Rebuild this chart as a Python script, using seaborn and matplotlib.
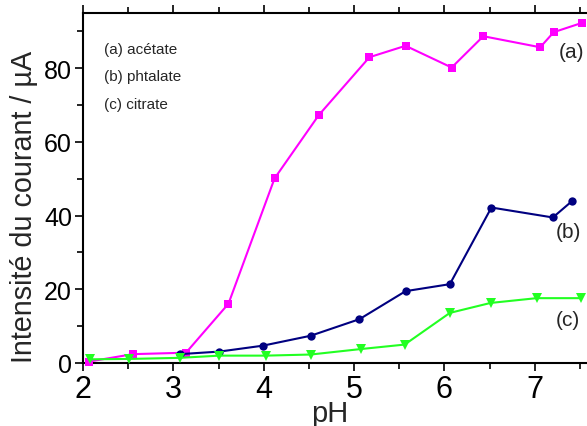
import matplotlib
matplotlib.use("Agg")
import matplotlib.pyplot as plt
import seaborn as sns
import pandas as pd
from matplotlib.ticker import MultipleLocator

# Data
ph_a = [2.07, 2.55, 3.14, 3.61, 4.12, 4.61, 5.17, 5.57, 6.08, 6.43, 7.06, 7.21, 7.52]
i_a = [0.4, 2.4, 2.8, 16.1, 50.1, 67.3, 83.0, 86.1, 80.2, 88.7, 85.7, 89.8, 92.3]

ph_b = [3.07, 3.51, 3.99, 4.52, 5.06, 5.57, 6.06, 6.52, 7.20, 7.41]
i_b = [2.4, 3.1, 4.7, 7.4, 11.9, 19.5, 21.4, 42.2, 39.5, 43.9]

ph_c = [2.08, 2.51, 3.07, 3.51, 4.02, 4.52, 5.08, 5.56, 6.06, 6.51, 7.02, 7.51]
i_c = [1.0, 1.1, 1.4, 2.0, 2.0, 2.3, 3.8, 5.0, 13.6, 16.3, 17.6, 17.6]

legend_lines = ["(a) acétate", "(b) phtalate", "(c) citrate"]
curve_labels = ["(a)", "(b)", "(c)"]

sns.set_theme(style="ticks")
plt.rcParams['font.family'] = ['Liberation Sans', 'DejaVu Sans']

fig = plt.figure(figsize=(5.87, 4.27), dpi=100)
ax = fig.add_axes([83/587, 63/427, 506/587, 350/427])

series = [
    (ph_a, i_a, "#FF00FF", "s"),
    (ph_b, i_b, "#000080", "o"),
    (ph_c, i_c, "#22FF22", "v"),
]
for x, y, col, mk in series:
    df = pd.DataFrame({"pH": x, "I": y})
    sns.lineplot(data=df, x="pH", y="I", ax=ax, color=col, marker=mk,
                 markersize=6 if mk != "v" else 7, markeredgewidth=0,
                 linewidth=1.5, sort=False, clip_on=False, zorder=3)

ax.set_xlim(2, 7.6)
ax.set_ylim(0, 95)
ax.xaxis.set_major_locator(MultipleLocator(1))
ax.xaxis.set_minor_locator(MultipleLocator(0.5))
ax.yaxis.set_major_locator(MultipleLocator(20))
ax.yaxis.set_minor_locator(MultipleLocator(10))

for s in ["left", "bottom", "top"]:
    ax.spines[s].set_visible(True)
    ax.spines[s].set_linewidth(1.5)
    ax.spines[s].set_color("black")
ax.spines["right"].set_visible(False)

ax.tick_params(axis="both", which="major", direction="out", length=6, width=1.2,
               colors="black", pad=2)
ax.tick_params(axis="x", which="major", labelsize=22, pad=2)
ax.tick_params(axis="y", which="major", labelsize=18, pad=2)
ax.tick_params(axis="both", which="minor", direction="out", length=4, width=1.2, colors="black")
ax.tick_params(axis="x", which="both", top=True, labeltop=False)

ax.set_xlabel("pH", fontsize=21)
ax.xaxis.set_label_coords((330 - 83) / 506, -(414 - 364) / 350)
ax.xaxis.label.set_va("center")
ax.set_ylabel("Intensité du courant / µA", fontsize=20.7)
ax.yaxis.set_label_coords((24 - 83) / 506, (364 - 207) / 350)
ax.yaxis.label.set_va("center")

def put(xpx, ypx, t, **kw):
    fig.text(xpx/587, 1 - ypx/427, t, **kw)

for k, t in enumerate(legend_lines):
    put(104, 50 + 27.5*k, t, fontsize=11, va="center", ha="left")

put(572, 52, curve_labels[0], fontsize=15, ha="center", va="center")
put(568, 233, curve_labels[1], fontsize=15, ha="center", va="center")
put(568, 320, curve_labels[2], fontsize=15, ha="center", va="center")

fig.savefig("out.png", dpi=100)
